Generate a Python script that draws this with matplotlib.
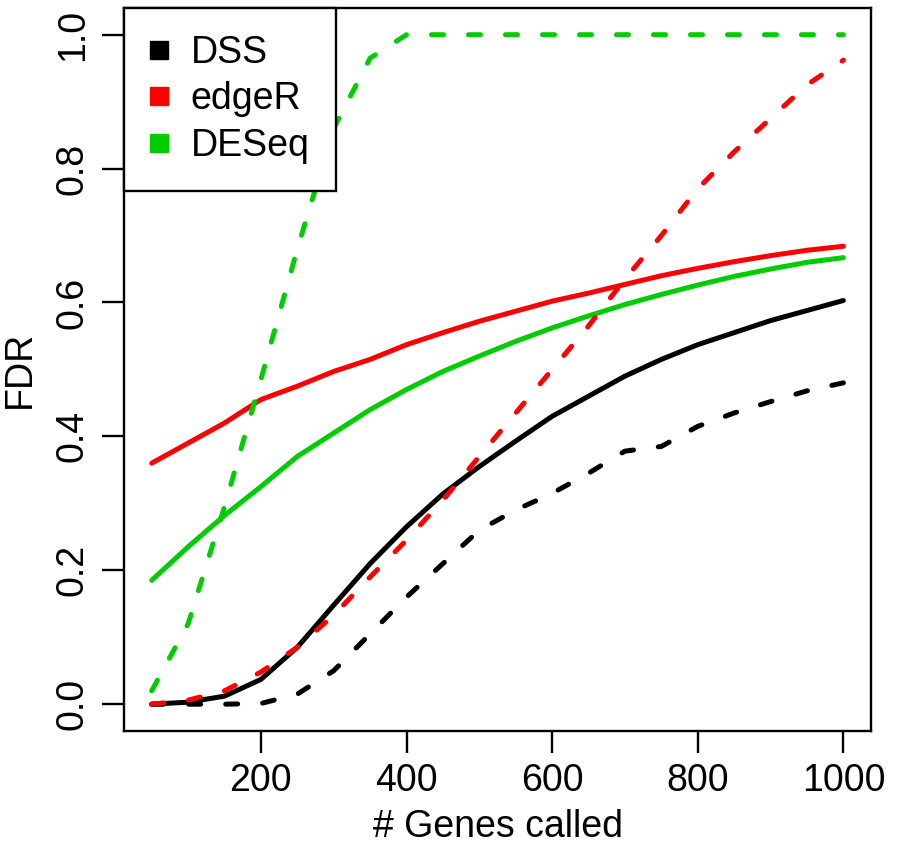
import numpy as np
import matplotlib
matplotlib.use("Agg")
import matplotlib.pyplot as plt
from matplotlib.lines import Line2D

plt.rcParams['font.family'] = ['Liberation Sans', 'DejaVu Sans']

# number of genes called
genes = [50, 100, 150, 200, 250, 300, 350, 400, 450, 500,
         550, 600, 650, 700, 750, 800, 850, 900, 950, 1000]

# FDR curves, solid and dashed for each method
dss_solid = [0.0, 0.003, 0.012, 0.037, 0.085, 0.148, 0.21, 0.265, 0.314, 0.355,
             0.393, 0.43, 0.46, 0.49, 0.515, 0.537, 0.555, 0.573, 0.588, 0.603]
dss_dash = [0.0, 0.0, 0.0, 0.001, 0.015, 0.05, 0.105, 0.16, 0.21, 0.26,
            0.29, 0.315, 0.345, 0.378, 0.385, 0.415, 0.435, 0.452, 0.468, 0.48]
edger_solid = [0.36, 0.39, 0.42, 0.455, 0.475, 0.497, 0.515, 0.537, 0.555, 0.572,
               0.587, 0.602, 0.614, 0.627, 0.64, 0.651, 0.661, 0.67, 0.678, 0.684]
edger_dash = [0.0, 0.006, 0.02, 0.048, 0.085, 0.133, 0.19, 0.245, 0.305, 0.37,
              0.435, 0.5, 0.565, 0.635, 0.7, 0.77, 0.825, 0.875, 0.925, 0.962]
deseq_solid = [0.185, 0.235, 0.282, 0.325, 0.37, 0.405, 0.44, 0.47, 0.497, 0.52,
               0.542, 0.562, 0.58, 0.597, 0.612, 0.626, 0.639, 0.65, 0.66, 0.667]
deseq_dash = [0.02, 0.12, 0.295, 0.485, 0.68, 0.86, 0.965, 1.0, 1.0, 1.0,
              1.0, 1.0, 1.0, 1.0, 1.0, 1.0, 1.0, 1.0, 1.0, 1.0]

methods = ["DSS", "edgeR", "DESeq"]
colors = ["black", "#FF0000", "#00CD00"]

fig = plt.figure(figsize=(9.02, 8.43), dpi=100)
ax = fig.add_axes([0.1375, 0.1329, 0.8282, 0.8577])

lw = 3.6
for y, c in zip([dss_solid, edger_solid, deseq_solid], colors):
    ax.plot(genes, y, color=c, lw=lw, solid_capstyle='round')
for y, c in zip([dss_dash, edger_dash, deseq_dash], colors):
    ax.plot(genes, y, color=c, lw=lw, dashes=(2.4, 5.0),
            dash_capstyle='round')

ax.set_xlim(12, 1038)
ax.set_ylim(-0.04, 1.04)
ax.set_xticks([200, 400, 600, 800, 1000])
ax.set_yticks([0.0, 0.2, 0.4, 0.6, 0.8, 1.0])
ax.set_yticklabels(["0.0", "0.2", "0.4", "0.6", "0.8", "1.0"],
                   rotation=90, va='center')
ax.tick_params(axis='both', labelsize=27, length=16, width=1.7)
ax.tick_params(axis='x', pad=7)
ax.tick_params(axis='y', pad=8)
for s in ax.spines.values():
    s.set_linewidth(1.7)

ax.set_xlabel("# Genes called", fontsize=27, labelpad=7)
ax.set_ylabel("FDR", fontsize=27, labelpad=12)

handles = [Line2D([], [], marker='s', ls='none', color=c, markersize=13)
           for c in colors]
leg = ax.legend(handles, methods, loc='upper left', bbox_to_anchor=(0, 1),
                borderaxespad=0, fontsize=27, fancybox=False,
                edgecolor='black', framealpha=1, borderpad=0.72,
                handlelength=0.45, handletextpad=0.6, labelspacing=0.28)
leg.get_frame().set_linewidth(1.7)

fig.savefig("out.png", dpi=100)
